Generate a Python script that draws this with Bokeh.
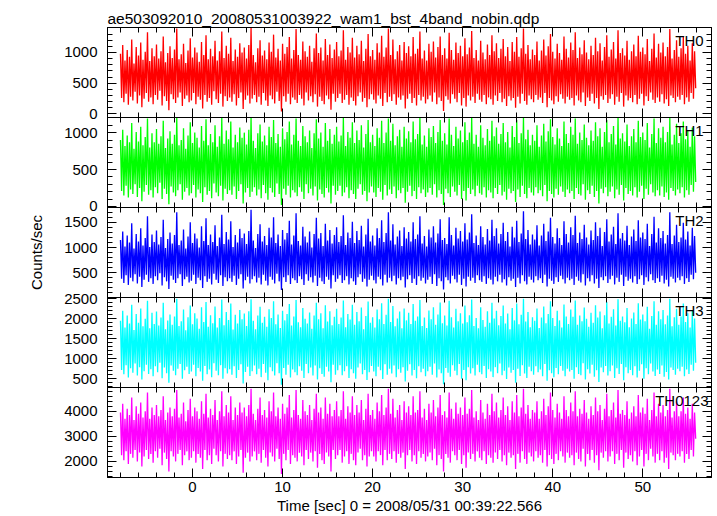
import numpy as np
from bokeh.plotting import figure
from bokeh.models import (Range1d, LinearAxis, SingleIntervalTicker, Label,
                          ColumnDataSource, CustomLabelingPolicy)
from bokeh.layouts import column
from bokeh.embed import file_html
from bokeh.resources import INLINE

TITLE = "ae503092010_20080531003922_wam1_bst_4band_nobin.qdp"
X_LABEL = "Time [sec] 0 = 2008/05/31 00:39:22.566"
Y_LABEL = "Counts/sec"

t_start = -8.0
t_step = 0.125

th0 = [
    980, 260, 1120, 190, 870, 330, 1040, 150, 930, 280, 1210, 220, 820, 360, 1090, 170,
    950, 300, 1160, 110, 880, 250, 1010, 340, 1330, 200, 860, 270, 1070, 160, 940, 310,
    1130, 230, 900, 380, 1020, 140, 1260, 290, 840, 210, 990, 60, 1100, 320, 910, 240,
    1050, 180, 1390, 270, 890, 350, 970, 130, 1140, 250, 830, 300, 1030, 190, 1230, 220,
    920, 340, 1080, 160, 1000, 280, 850, 230, 1170, 90, 960, 310, 1280, 200, 890, 260,
    1060, 150, 940, 370, 1190, 240, 870, 180, 1020, 330, 1340, 120, 910, 290, 1110, 210,
    980, 270, 1240, 200, 860, 320, 1050, 140, 930, 260, 1150, 350, 1000, 80, 1080, 230,
    900, 300, 1120, 170, 1400, 250, 960, 310, 840, 190, 1070, 280, 1200, 150, 950, 340,
    1030, 220, 890, 130, 1160, 300, 1010, 240, 1290, 170, 920, 360, 1060, 210, 870, 40,
    1140, 290, 980, 200, 1090, 330, 1250, 160, 900, 270, 1040, 230, 1380, 180, 960, 310,
    880, 250, 1180, 140, 1020, 350, 930, 220, 1110, 290, 850, 190, 1070, 320, 1310, 120,
    990, 280, 1080, 210, 870, 160, 1220, 300, 960, 240, 1130, 70, 910, 330, 1050, 200,
    1170, 260, 940, 330, 1030, 180, 1360, 230, 880, 310, 1090, 150, 1000, 270, 1240, 210,
    920, 140, 1110, 290, 970, 350, 1190, 200, 860, 260, 1060, 110, 1300, 240, 940, 320,
    1040, 230, 880, 170, 1150, 300, 1000, 250, 1270, 130, 930, 340, 1080, 190, 1390, 280,
    960, 210, 1210, 320, 890, 150, 1020, 270, 1120, 230, 870, 300, 1170, 90, 990, 250,
    1100, 330, 940, 180, 1250, 260, 980, 140, 1060, 310, 1340, 220, 900, 280, 1030, 170,
    870, 240, 1140, 300, 1010, 200, 1180, 350, 920, 160, 1090, 270, 1260, 210, 960, 50,
    1070, 290, 900, 230, 1320, 170, 1040, 320, 880, 250, 1160, 190, 990, 340, 1110, 140,
    940, 260, 1230, 120, 970, 300, 1080, 220, 1350, 280, 910, 180, 1040, 330, 870, 230,
    1190, 200, 1000, 310, 890, 160, 1130, 270, 960, 240, 1280, 150, 1020, 300, 1150, 210,
    910, 340, 1060, 190, 1220, 250, 940, 130, 1090, 290, 860, 220, 1170, 260, 1010, 100,
    1250, 280, 930, 170, 1070, 330, 1390, 210, 980, 150, 1120, 300, 890, 240, 1050, 190,
    960, 310, 1180, 230, 870, 270, 1030, 180, 1210, 340, 950, 110, 1100, 260, 1300, 220,
    1010, 160, 900, 290, 1140, 200, 990, 320, 880, 250, 1260, 170, 1060, 280, 920, 230,
    1160, 260, 1040, 140, 1330, 300, 910, 220, 1080, 190, 970, 350, 1200, 130, 1000, 270,
    890, 210, 1110, 330, 960, 170, 1240, 260, 1020, 80, 1150, 290, 870, 230, 1090, 310,
    1280, 180, 930, 250, 1050, 320, 1170, 150, 900, 280, 1360, 200, 990, 340, 1070, 120,
    950, 300, 1190, 220, 880, 260, 1020, 190, 1130, 310, 940, 160, 1270, 250, 1010, 330,
    1080, 140, 970, 290, 1220, 210, 860, 350, 1060, 230, 1310, 180, 920, 270, 1140, 200,
    1000, 320, 1160, 170, 940, 240, 1090, 130, 1380, 300, 900, 260, 1040, 190, 1200, 280,
    930, 230, 1070, 310, 1250, 160, 980, 270, 1110, 200, 870, 340, 1150, 250, 1020, 420,
]

th1 = [
    900, 210, 1040, 150, 820, 280, 960, 120, 870, 230, 1130, 170, 780, 300, 1010, 130,
    880, 250, 1080, 70, 830, 200, 940, 290, 1190, 160, 800, 220, 990, 120, 870, 260,
    1050, 180, 850, 320, 950, 100, 1160, 240, 790, 170, 920, 30, 1020, 270, 850, 190,
    970, 140, 1200, 220, 830, 300, 900, 90, 1060, 200, 780, 250, 960, 150, 1140, 180,
    860, 290, 1000, 120, 930, 230, 800, 180, 1090, 60, 890, 260, 1180, 160, 830, 210,
    980, 110, 870, 310, 1100, 190, 810, 140, 950, 280, 1200, 80, 850, 240, 1030, 170,
    910, 220, 1150, 160, 800, 270, 970, 100, 870, 210, 1070, 300, 930, 40, 1000, 190,
    840, 250, 1040, 130, 1210, 200, 890, 260, 790, 150, 990, 230, 1110, 110, 880, 290,
    960, 180, 830, 90, 1080, 250, 940, 190, 1170, 130, 860, 310, 980, 170, 810, 20,
    1060, 240, 910, 160, 1010, 280, 1150, 120, 840, 220, 970, 190, 1190, 140, 890, 260,
    820, 200, 1090, 100, 950, 300, 870, 180, 1030, 240, 790, 150, 990, 270, 1180, 80,
    920, 230, 1000, 170, 810, 120, 1130, 250, 890, 190, 1050, 40, 850, 280, 970, 160,
    1080, 210, 880, 280, 960, 140, 1200, 190, 820, 260, 1010, 110, 930, 220, 1140, 170,
    860, 100, 1030, 240, 900, 300, 1100, 160, 800, 210, 980, 70, 1170, 190, 870, 270,
    970, 190, 820, 130, 1060, 250, 930, 200, 1160, 90, 860, 290, 1000, 150, 1190, 230,
    890, 170, 1120, 270, 830, 110, 950, 220, 1040, 180, 810, 250, 1080, 50, 920, 200,
    1020, 280, 870, 140, 1150, 210, 910, 100, 980, 260, 1200, 180, 840, 230, 960, 130,
    810, 190, 1060, 250, 940, 160, 1090, 300, 860, 120, 1010, 220, 1170, 170, 890, 20,
    990, 240, 840, 180, 1190, 130, 970, 270, 820, 200, 1080, 150, 920, 290, 1030, 100,
    870, 210, 1140, 80, 900, 250, 1000, 170, 1200, 230, 850, 140, 970, 280, 810, 180,
    1100, 160, 930, 260, 830, 120, 1050, 220, 890, 190, 1160, 110, 950, 250, 1070, 170,
    850, 290, 980, 150, 1130, 200, 870, 90, 1010, 240, 800, 180, 1090, 210, 940, 60,
    1170, 230, 860, 130, 990, 280, 1200, 170, 910, 110, 1040, 250, 830, 190, 970, 150,
    890, 260, 1100, 180, 810, 220, 960, 140, 1120, 290, 880, 70, 1020, 210, 1180, 170,
    940, 120, 840, 240, 1060, 160, 920, 270, 820, 200, 1150, 130, 980, 230, 860, 180,
    1080, 210, 970, 100, 1190, 250, 850, 170, 1000, 150, 900, 300, 1110, 90, 930, 220,
    830, 170, 1030, 280, 890, 130, 1140, 210, 950, 40, 1060, 240, 810, 180, 1010, 260,
    1170, 140, 870, 200, 980, 270, 1090, 110, 840, 230, 1200, 160, 920, 290, 990, 80,
    880, 250, 1110, 170, 820, 210, 950, 150, 1050, 260, 870, 120, 1160, 200, 940, 280,
    1000, 100, 900, 240, 1130, 160, 800, 300, 980, 190, 1190, 140, 860, 220, 1060, 150,
    930, 270, 1080, 130, 870, 190, 1010, 90, 1200, 250, 840, 210, 970, 150, 1120, 230,
    860, 180, 990, 260, 1150, 120, 910, 220, 1030, 160, 810, 290, 1070, 200, 950, 330,
]

th2 = [
    1150, 380, 1320, 300, 1020, 450, 1240, 260, 1100, 400, 1480, 330, 980, 470, 1270, 290,
    1120, 420, 1380, 220, 1040, 360, 1190, 460, 1620, 320, 1010, 390, 1260, 280, 1110, 430,
    1340, 350, 1060, 490, 1210, 250, 1550, 410, 990, 330, 1170, 180, 1300, 440, 1080, 360,
    1250, 300, 1700, 390, 1050, 470, 1140, 240, 1360, 370, 980, 420, 1220, 310, 1500, 340,
    1090, 460, 1280, 280, 1180, 400, 1000, 350, 1420, 200, 1130, 430, 1580, 320, 1050, 380,
    1260, 270, 1110, 480, 1440, 360, 1030, 300, 1200, 450, 1650, 240, 1070, 410, 1310, 330,
    1160, 390, 1520, 320, 1010, 440, 1250, 260, 1100, 380, 1370, 470, 1190, 190, 1280, 350,
    1070, 420, 1330, 290, 1750, 370, 1140, 430, 990, 310, 1270, 400, 1460, 270, 1120, 460,
    1230, 340, 1050, 250, 1390, 420, 1200, 360, 1600, 290, 1090, 480, 1260, 330, 1030, 160,
    1350, 410, 1160, 320, 1290, 450, 1530, 280, 1060, 390, 1240, 350, 1680, 300, 1130, 430,
    1040, 370, 1410, 260, 1220, 470, 1100, 340, 1320, 410, 1000, 310, 1270, 440, 1590, 240,
    1180, 400, 1290, 330, 1030, 280, 1470, 420, 1140, 360, 1350, 190, 1080, 450, 1250, 320,
    1400, 380, 1110, 450, 1230, 300, 1640, 350, 1050, 430, 1300, 270, 1190, 390, 1510, 330,
    1090, 260, 1330, 410, 1150, 470, 1430, 320, 1020, 380, 1260, 230, 1570, 360, 1120, 440,
    1240, 350, 1040, 290, 1380, 420, 1190, 370, 1540, 250, 1110, 460, 1290, 310, 1700, 400,
    1140, 330, 1460, 440, 1060, 270, 1220, 390, 1340, 350, 1030, 420, 1400, 210, 1180, 370,
    1310, 450, 1120, 300, 1500, 380, 1170, 260, 1260, 430, 1620, 340, 1080, 400, 1230, 290,
    1020, 360, 1360, 420, 1200, 280, 1420, 470, 1100, 240, 1280, 390, 1560, 330, 1150, 170,
    1190, 410, 1070, 350, 1600, 290, 1250, 440, 1040, 370, 1390, 310, 1180, 460, 1330, 260,
    1120, 380, 1480, 230, 1160, 420, 1300, 340, 1660, 400, 1090, 300, 1240, 450, 1050, 350,
    1420, 320, 1210, 430, 1060, 280, 1370, 390, 1140, 360, 1550, 270, 1230, 420, 1380, 330,
    1080, 460, 1270, 310, 1490, 370, 1130, 250, 1310, 410, 1020, 340, 1410, 380, 1200, 220,
    1530, 400, 1110, 290, 1280, 450, 1720, 330, 1170, 270, 1350, 420, 1060, 360, 1260, 310,
    1160, 430, 1440, 350, 1040, 390, 1240, 300, 1470, 460, 1130, 230, 1320, 380, 1590, 340,
    1210, 280, 1080, 410, 1380, 320, 1190, 440, 1050, 370, 1520, 290, 1270, 400, 1100, 350,
    1400, 380, 1250, 260, 1630, 420, 1090, 340, 1300, 310, 1170, 470, 1450, 250, 1200, 390,
    1060, 330, 1340, 450, 1150, 290, 1500, 380, 1230, 200, 1390, 410, 1030, 350, 1310, 430,
    1560, 300, 1120, 370, 1260, 440, 1410, 270, 1070, 400, 1680, 320, 1180, 460, 1290, 240,
    1140, 420, 1430, 340, 1050, 380, 1220, 310, 1360, 430, 1130, 280, 1540, 370, 1200, 450,
    1300, 260, 1170, 410, 1470, 330, 1030, 470, 1270, 350, 1610, 300, 1100, 390, 1380, 320,
    1190, 440, 1330, 290, 1080, 360, 1250, 230, 1700, 420, 1070, 380, 1240, 310, 1450, 400,
    1110, 350, 1200, 430, 1490, 280, 1160, 390, 1320, 320, 1040, 460, 1390, 370, 1230, 500,
]

th3 = [
    1950, 720, 2200, 610, 1780, 840, 2080, 530, 1880, 760, 2350, 650, 1720, 880, 2120, 580,
    1900, 790, 2260, 480, 1810, 690, 2000, 850, 2450, 620, 1760, 740, 2150, 560, 1870, 810,
    2180, 660, 1830, 900, 2030, 510, 2400, 780, 1740, 640, 1960, 400, 2110, 830, 1850, 700,
    2060, 590, 2500, 750, 1820, 870, 1940, 500, 2230, 710, 1710, 800, 2040, 620, 2330, 680,
    1860, 850, 2140, 560, 2010, 770, 1750, 680, 2290, 450, 1920, 820, 2420, 610, 1800, 730,
    2090, 540, 1890, 890, 2310, 700, 1780, 590, 2020, 840, 2480, 500, 1840, 760, 2170, 630,
    1970, 740, 2380, 600, 1730, 810, 2100, 520, 1880, 720, 2220, 860, 1990, 380, 2130, 670,
    1820, 800, 2190, 570, 2490, 690, 1950, 830, 1740, 610, 2080, 750, 2300, 540, 1900, 870,
    2050, 650, 1800, 460, 2240, 790, 2020, 690, 2440, 580, 1860, 890, 2110, 640, 1770, 350,
    2200, 770, 1960, 600, 2120, 850, 2370, 530, 1830, 730, 2060, 660, 2470, 590, 1910, 810,
    1790, 700, 2270, 520, 2000, 870, 1880, 640, 2160, 780, 1750, 580, 2080, 830, 2400, 480,
    1990, 760, 2140, 620, 1760, 550, 2340, 800, 1930, 680, 2190, 410, 1840, 850, 2050, 600,
    2250, 710, 1870, 840, 2030, 590, 2460, 690, 1790, 810, 2120, 520, 1980, 740, 2350, 640,
    1850, 500, 2170, 780, 1940, 880, 2280, 610, 1740, 720, 2070, 470, 2430, 660, 1900, 820,
    2040, 680, 1780, 560, 2230, 800, 1990, 710, 2390, 490, 1870, 860, 2100, 600, 2500, 750,
    1920, 630, 2320, 830, 1810, 540, 2010, 740, 2180, 650, 1760, 790, 2260, 430, 1960, 700,
    2150, 860, 1870, 580, 2370, 720, 1950, 510, 2060, 810, 2470, 660, 1820, 750, 2030, 560,
    1770, 690, 2210, 800, 1990, 600, 2290, 880, 1850, 530, 2110, 730, 2410, 640, 1890, 360,
    2080, 770, 1830, 650, 2450, 550, 2040, 840, 1780, 700, 2250, 590, 1940, 870, 2140, 500,
    1880, 720, 2330, 460, 1910, 790, 2090, 630, 2480, 760, 1820, 580, 2020, 850, 1760, 660,
    2290, 610, 1970, 820, 1800, 520, 2190, 740, 1900, 680, 2400, 540, 2010, 790, 2200, 640,
    1840, 880, 2070, 590, 2330, 700, 1880, 490, 2130, 780, 1740, 650, 2270, 720, 1960, 400,
    2380, 750, 1860, 570, 2100, 840, 2500, 630, 1930, 520, 2170, 800, 1790, 690, 2040, 600,
    1950, 810, 2260, 660, 1770, 730, 2030, 560, 2310, 870, 1890, 450, 2120, 710, 2440, 640,
    2020, 540, 1820, 770, 2200, 610, 1960, 820, 1780, 700, 2360, 560, 2060, 750, 1870, 680,
    2230, 720, 2050, 500, 2460, 790, 1850, 620, 2080, 590, 1940, 890, 2280, 480, 2000, 740,
    1800, 630, 2150, 850, 1900, 550, 2340, 710, 2030, 420, 2180, 780, 1760, 660, 2090, 820,
    2420, 580, 1880, 690, 2050, 830, 2240, 520, 1830, 760, 2490, 620, 1950, 870, 2060, 460,
    1910, 790, 2270, 640, 1790, 720, 2010, 590, 2160, 810, 1870, 530, 2390, 700, 1980, 860,
    2110, 500, 1940, 760, 2300, 610, 1750, 880, 2070, 680, 2440, 570, 1850, 730, 2190, 620,
    1990, 830, 2220, 550, 1860, 670, 2080, 480, 2500, 780, 1810, 720, 2040, 600, 2250, 750,
    1850, 690, 2060, 800, 2380, 560, 1920, 730, 2140, 620, 1780, 850, 2210, 700, 2010, 900,
]

th0123 = [
    3950, 2250, 4300, 2050, 3700, 2400, 4100, 1900, 3850, 2300, 4550, 2150, 3650, 2450, 4200, 2000,
    3900, 2350, 4350, 1800, 3750, 2200, 4000, 2450, 4750, 2100, 3700, 2300, 4150, 1950, 3850, 2400,
    4250, 2150, 3800, 2500, 4050, 1850, 4600, 2350, 3650, 2100, 3950, 1600, 4150, 2400, 3800, 2200,
    4100, 2000, 4850, 2300, 3750, 2450, 3900, 1850, 4350, 2250, 3600, 2400, 4050, 2050, 4500, 2150,
    3800, 2400, 4150, 1950, 4000, 2300, 3700, 2150, 4400, 1700, 3900, 2450, 4700, 2050, 3750, 2250,
    4100, 1900, 3850, 2500, 4450, 2250, 3650, 2000, 4000, 2400, 4800, 1800, 3800, 2300, 4250, 2100,
    3950, 2250, 4600, 2050, 3650, 2400, 4150, 1900, 3850, 2200, 4350, 2450, 3950, 1550, 4150, 2150,
    3800, 2350, 4250, 2000, 4900, 2200, 3900, 2400, 3650, 2050, 4100, 2300, 4550, 1950, 3850, 2450,
    4050, 2150, 3750, 1800, 4400, 2350, 4000, 2200, 4750, 2000, 3800, 2500, 4150, 2100, 3700, 1500,
    4300, 2300, 3900, 2050, 4150, 2450, 4650, 1900, 3750, 2250, 4050, 2150, 4850, 2000, 3850, 2350,
    3700, 2200, 4450, 1850, 4000, 2450, 3850, 2100, 4250, 2350, 3650, 2000, 4100, 2400, 4700, 1750,
    3950, 2300, 4150, 2050, 3700, 1900, 4550, 2350, 3900, 2200, 4300, 1600, 3800, 2450, 4050, 2100,
    4400, 2250, 3800, 2450, 4050, 1950, 4800, 2200, 3700, 2400, 4200, 1900, 3950, 2300, 4600, 2050,
    3850, 1850, 4250, 2350, 3950, 2500, 4450, 2050, 3650, 2250, 4100, 1800, 4700, 2200, 3850, 2400,
    4050, 2200, 3700, 2000, 4350, 2400, 4000, 2250, 4650, 1850, 3850, 2450, 4150, 2050, 4900, 2300,
    3900, 2100, 4500, 2400, 3750, 1950, 4050, 2300, 4250, 2150, 3650, 2350, 4400, 1700, 3950, 2250,
    4200, 2450, 3850, 2000, 4600, 2250, 3950, 1900, 4050, 2400, 4800, 2150, 3750, 2300, 4100, 2000,
    3650, 2200, 4300, 2350, 3950, 2050, 4450, 2500, 3800, 1850, 4150, 2250, 4650, 2100, 3850, 1600,
    4000, 2300, 3750, 2150, 4750, 1950, 4100, 2400, 3700, 2250, 4350, 2050, 3900, 2450, 4150, 1900,
    3850, 2250, 4550, 1750, 3900, 2350, 4100, 2100, 4850, 2300, 3750, 2000, 4000, 2400, 3650, 2150,
    4450, 2050, 3950, 2400, 3700, 1900, 4300, 2250, 3850, 2150, 4700, 1950, 4000, 2350, 4350, 2100,
    3750, 2450, 4050, 2000, 4550, 2250, 3850, 1850, 4200, 2350, 3650, 2150, 4400, 2250, 3950, 1700,
    4650, 2300, 3800, 1950, 4150, 2400, 4900, 2100, 3900, 1900, 4250, 2350, 3700, 2200, 4050, 2000,
    3950, 2400, 4400, 2150, 3700, 2250, 4000, 1950, 4500, 2450, 3850, 1800, 4200, 2250, 4750, 2100,
    4050, 1900, 3750, 2300, 4300, 2050, 3950, 2400, 3700, 2200, 4600, 1950, 4050, 2350, 3800, 2150,
    4350, 2250, 4000, 1850, 4800, 2350, 3800, 2100, 4100, 2000, 3900, 2500, 4450, 1800, 3950, 2300,
    3700, 2050, 4200, 2450, 3850, 1950, 4550, 2250, 4000, 1650, 4250, 2350, 3650, 2150, 4100, 2400,
    4700, 2000, 3800, 2200, 4050, 2400, 4350, 1900, 3750, 2300, 4850, 2050, 3900, 2450, 4050, 1750,
    3850, 2350, 4400, 2100, 3700, 2250, 3950, 2000, 4200, 2400, 3800, 1850, 4650, 2200, 3950, 2450,
    4150, 1800, 3900, 2300, 4500, 2050, 3650, 2500, 4050, 2200, 4750, 1950, 3800, 2300, 4300, 2050,
    3950, 2400, 4250, 1950, 3800, 2150, 4050, 1700, 4900, 2350, 3750, 2250, 4000, 2050, 4400, 2300,
    3800, 2200, 4000, 2400, 4550, 1950, 3900, 2300, 4150, 2100, 3700, 2450, 4300, 2200, 3950, 2900,
]

band_names = ["TH0", "TH1", "TH2", "TH3", "TH0123"]
band_values = [th0, th1, th2, th3, th0123]
band_colors = ["#ff0000", "#00ff00", "#0000ff", "#00ffff", "#ff00ff"]
y_ranges = [(-57, 1406), (-14, 1205), (10, 1794), (280, 2533), (1357, 4947)]
y_intervals = [500, 500, 500, 500, 1000]
x_limits = (-9.44, 57.63)

FONT = "Liberation Sans"
FS = "15px"

no_labels_js = "for (const i of Array.from(indices)) { indices.unset(i) } return indices"

x_range = Range1d(*x_limits)
figs = []
n_panels = len(band_names)
FRAME_H = 90
GAP = 10
for i in range(n_panels):
    vals = band_values[i]
    t = t_start + t_step * np.arange(len(vals))
    src = ColumnDataSource(dict(t=t, y=vals))
    first = i == 0
    last = i == n_panels - 1
    p = figure(
        frame_width=604, frame_height=FRAME_H,
        x_range=x_range, y_range=Range1d(*y_ranges[i]),
        output_backend="svg", toolbar_location=None,
        x_axis_location=None, y_axis_location=None,
        min_border_left=107, min_border_right=5,
        min_border_top=27 if first else GAP,
        min_border_bottom=36 if last else GAP,
        title=TITLE if first else None,
    )
    p.grid.visible = False
    p.outline_line_color = "black"
    p.background_fill_color = None
    p.border_fill_color = None
    if not first:
        p.styles = {"margin-top": f"-{2 * GAP}px"}
    if first:
        p.title.text_font = FONT
        p.title.text_font_size = "15.5px"
        p.title.text_font_style = "normal"
        p.title.text_color = "black"
        p.title.align = "left"
        p.title.offset = 0
        p.title.standoff = 2

    p.line("t", "y", source=src, line_color=band_colors[i], line_width=1.3)

    def style(ax, labels):
        ax.axis_line_color = "black"
        ax.axis_line_width = 1
        ax.major_tick_in = 9
        ax.major_tick_out = 0
        ax.minor_tick_in = 5
        ax.minor_tick_out = 0
        ax.major_tick_line_color = "black"
        ax.minor_tick_line_color = "black"
        if labels:
            ax.major_label_text_font = FONT
            ax.major_label_text_font_size = FS
            ax.major_label_text_color = "black"
        else:
            ax.major_label_text_font_size = "0px"
            ax.major_label_standoff = 0
            ax.major_label_policy = CustomLabelingPolicy(code=no_labels_js)

    yt = SingleIntervalTicker(interval=y_intervals[i], num_minor_ticks=5)
    xt = SingleIntervalTicker(interval=10, num_minor_ticks=5)

    yl = LinearAxis(ticker=yt)
    style(yl, True)
    yl.major_label_standoff = 10
    if i == 2:
        yl.axis_label = Y_LABEL
        yl.axis_label_text_font = FONT
        yl.axis_label_text_font_size = FS
        yl.axis_label_text_font_style = "normal"
        yl.axis_label_text_color = "black"
        yl.axis_label_standoff = 16
    p.add_layout(yl, "left")

    yr_ax = LinearAxis(ticker=yt)
    style(yr_ax, False)
    p.add_layout(yr_ax, "right")

    xb = LinearAxis(ticker=xt)
    style(xb, last)
    if last:
        xb.major_label_standoff = 4
        xb.axis_label = X_LABEL
        xb.axis_label_text_font = FONT
        xb.axis_label_text_font_size = FS
        xb.axis_label_text_font_style = "normal"
        xb.axis_label_text_color = "black"
        xb.axis_label_standoff = 2
    p.add_layout(xb, "below")

    xa = LinearAxis(ticker=xt)
    style(xa, False)
    p.add_layout(xa, "above")

    y0, y1 = y_ranges[i]
    lab = Label(
        x=57.3 if last else 56.75, y=y1 - 4.0 / FRAME_H * (y1 - y0),
        text=band_names[i], text_align="right", text_baseline="top",
        text_font=FONT, text_font_size=FS, text_color="black",
    )
    p.add_layout(lab)
    figs.append(p)

layout = column(*figs, spacing=0)
open("out.html", "w").write(file_html(layout, INLINE))
